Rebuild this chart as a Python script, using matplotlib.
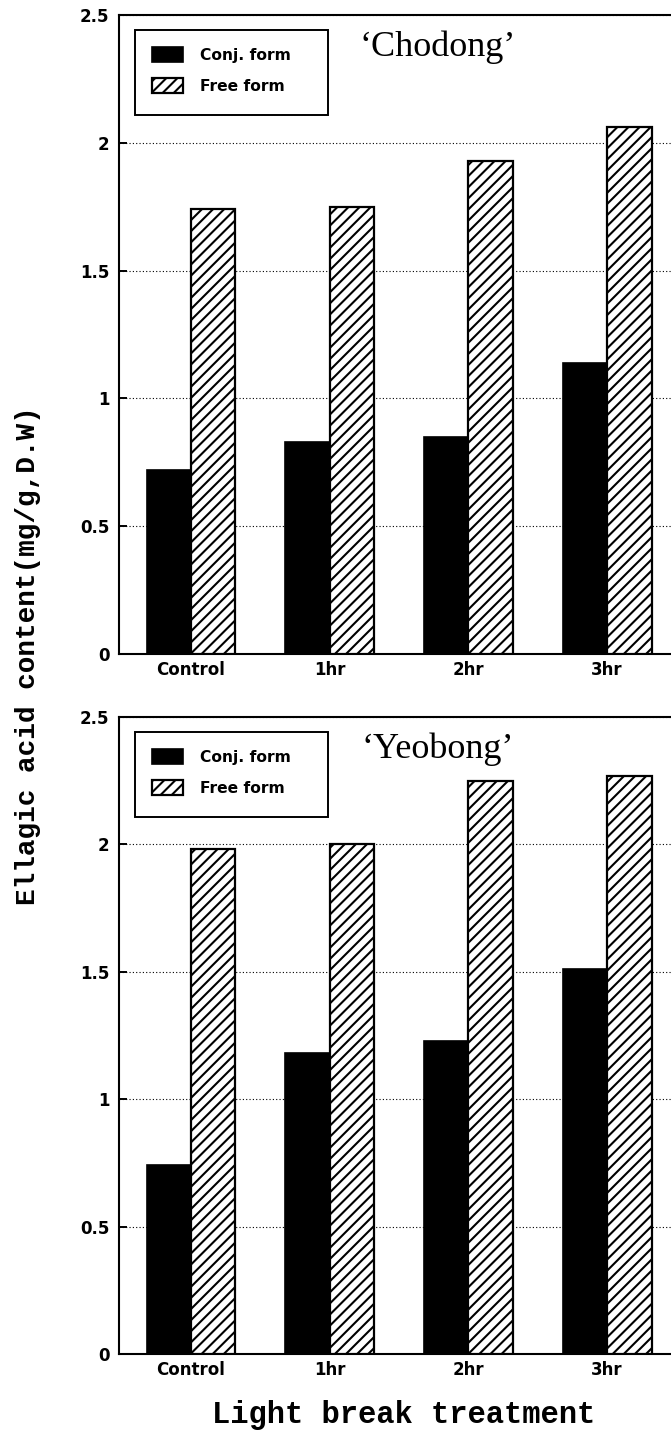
import numpy as np
import matplotlib
matplotlib.use("Agg")
import matplotlib.pyplot as plt
from matplotlib.patches import Rectangle

# data (mg/g D.W)
treatments = ["Control", "1hr", "2hr", "3hr"]
cultivars = ["\u2018Chodong\u2019", "\u2018Yeobong\u2019"]
chodong_conj = [0.72, 0.83, 0.85, 1.14]
chodong_free = [1.74, 1.75, 1.93, 2.06]
yeobong_conj = [0.74, 1.18, 1.23, 1.51]
yeobong_free = [1.98, 2.00, 2.25, 2.27]
y_ticks = [0, 0.5, 1, 1.5, 2, 2.5]
y_ticklabels = ["0", "0.5", "1", "1.5", "2", "2.5"]

plt.rcParams["hatch.linewidth"] = 1.5
plt.rcParams["font.family"] = ["DejaVu Sans"]

fig = plt.figure(figsize=(6.71, 14.46), dpi=100)
left = 119 / 671
ax_top = fig.add_axes([left, 1 - 654 / 1446, 1 - left, 639 / 1446])
ax_bot = fig.add_axes([left, 1 - 1354 / 1446, 1 - left, 637 / 1446])

panels = [
    (ax_top, cultivars[0], chodong_conj, chodong_free),
    (ax_bot, cultivars[1], yeobong_conj, yeobong_free),
]

x = np.arange(len(treatments))
w = 0.32

for ax, name, conj, free in panels:
    ax.bar(x - w / 2, conj, w, color="black", edgecolor="black",
           linewidth=1.2, label="Conj. form", zorder=3)
    ax.bar(x + w / 2, free, w, color="white", edgecolor="black",
           hatch="///", linewidth=1.6, label="Free form", zorder=3)

    ax.set_xlim(-0.519, 3.46)
    ax.set_ylim(0, 2.5)
    ax.set_yticks(y_ticks)
    ax.set_yticklabels(y_ticklabels)
    ax.set_xticks(x)
    ax.set_xticklabels(treatments)
    ax.tick_params(axis="y", direction="in", length=6, width=1.4, pad=7,
                   labelsize=12)
    ax.tick_params(axis="x", length=0, pad=5, labelsize=12)
    for lab in ax.get_xticklabels() + ax.get_yticklabels():
        lab.set_fontweight("bold")

    ax.grid(axis="y", linestyle=(0, (1, 2)), color="black", linewidth=0.8,
            zorder=0)
    ax.spines["right"].set_visible(False)
    for s in ["left", "top", "bottom"]:
        ax.spines[s].set_linewidth(1.5)

    ax.text(0.578, 0.936, name, transform=ax.transAxes, ha="center",
            va="baseline", fontsize=26, family="Liberation Serif")

    # legend without its own frame, box drawn separately (wider than content)
    ax.add_patch(Rectangle((0.029, 0.8435), 0.3496, 0.133,
                           transform=ax.transAxes, facecolor="white",
                           edgecolor="black", linewidth=1.4, zorder=4))
    leg = ax.legend(loc="upper left", bbox_to_anchor=(0.0598, 0.950),
                    borderaxespad=0, borderpad=0, frameon=False,
                    prop={"size": 11.2, "weight": "bold"},
                    handlelength=2.0, handleheight=1.1, handletextpad=1.1,
                    labelspacing=1.0)
    leg.set_zorder(5)

fig.text(28 / 671, 1 - 656 / 1446, "Ellagic acid content(mg/g,D.W)",
         rotation=90, ha="center", va="center", fontsize=20,
         family="Liberation Mono", fontweight="bold")
fig.text(404 / 671, 1 - 1415 / 1446, "Light break treatment",
         ha="center", va="center", fontsize=22,
         family="Liberation Mono", fontweight="bold")

fig.savefig("out.png", dpi=100)
